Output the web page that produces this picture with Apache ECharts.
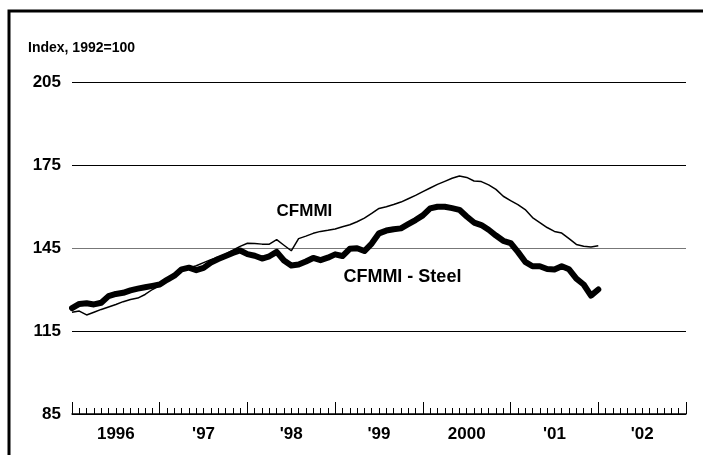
<!DOCTYPE html>
<html>
<head>
<meta charset="utf-8">
<script src="https://cdn.jsdelivr.net/npm/echarts@6/dist/echarts.min.js"></script>
<style>
  html, body { margin: 0; padding: 0; background: #fff; }
  #chart { width: 703px; height: 455px; }
</style>
</head>
<body>
<div id="chart"></div>
<script>
// months since Jan 1996 (0 = Jan 1996), monthly to Jan 2002
var yearLabels = ['1996', "'97", "'98", "'99", '2000', "'01", "'02"];
var yTicks = [85, 115, 145, 175, 205];

var cfmmi = [
  121.8, 122.2, 120.8, 121.8, 122.8, 123.7, 124.6, 125.6, 126.4, 126.9, 128.2, 130.0,
  131.4, 133.1, 134.6, 136.8, 137.8, 138.6, 139.7, 140.8, 141.7, 142.8, 144.2, 145.6,
  146.7, 146.6, 146.4, 146.4, 148.0, 146.0, 144.0, 148.4, 149.3, 150.3, 151.0, 151.4,
  151.9, 152.7, 153.4, 154.5, 155.8, 157.5, 159.3, 159.9, 160.7, 161.6, 162.8, 164.0,
  165.4, 166.7, 168.0, 169.1, 170.2, 171.0, 170.5, 169.2, 169.0, 167.8, 166.2, 163.7,
  162.1, 160.7, 158.9, 156.0, 154.2, 152.4, 151.0, 150.4, 148.4, 146.3, 145.6, 145.4,
  145.8
];

var steel = [
  123.3, 124.8, 125.0, 124.6, 125.2, 127.6, 128.4, 128.8, 129.7, 130.3, 130.8, 131.3,
  131.8, 133.5, 135.0, 137.3, 137.9, 137.0, 137.8, 139.7, 141.0, 142.1, 143.2, 144.1,
  142.8, 142.2, 141.2, 142.0, 143.6, 140.5, 138.7, 139.0, 140.1, 141.4, 140.6, 141.5,
  142.7, 142.1, 144.7, 144.9, 143.9, 146.6, 150.3, 151.3, 151.8, 152.1, 153.6, 155.1,
  156.8, 159.3, 159.9, 159.9, 159.4, 158.8, 156.4, 154.2, 153.3, 151.6, 149.5, 147.6,
  146.8, 143.6, 140.0, 138.4, 138.4, 137.4, 137.2, 138.4, 137.3, 133.9, 131.8, 127.8,
  130.0
];

// where the series names sit, in [month, index] terms
var cfmmiLabelAt = [31.8, 158.3];
var steelLabelAt = [45.2, 134.6];

function pairs(arr) {
  return arr.map(function (v, i) { return [i, v]; });
}

var font = 'Liberation Sans, Arial, sans-serif';

var chart = echarts.init(document.getElementById('chart'));
chart.setOption({
  animation: false,
  title: {
    text: 'Index, 1992=100',
    left: 23,
    top: 36,
    textStyle: { fontFamily: font, fontSize: 14, fontWeight: 'bold', color: '#000' }
  },
  graphic: [{
    type: 'rect',
    shape: { x: 9, y: 11, width: 760, height: 500 },
    style: { fill: 'none', stroke: '#000', lineWidth: 3 },
    silent: true
  }],
  grid: { left: 72, right: 17, top: 82, bottom: 41 },
  xAxis: [{
    type: 'value',
    min: 0,
    max: 84,
    interval: 1,
    position: 'bottom',
    axisLine: { show: true, lineStyle: { color: '#000', width: 1.5 } },
    axisTick: { show: true, inside: true, length: 6, lineStyle: { color: '#000', width: 1 } },
    splitLine: { show: false },
    axisLabel: {
      margin: 12,
      fontFamily: font,
      fontSize: 17,
      fontWeight: 'bold',
      color: '#000',
      formatter: function (v) {
        if (v % 12 === 6) return yearLabels[(v - 6) / 12] || '';
        return '';
      }
    }
  }, {
    type: 'value',
    min: 0,
    max: 84,
    interval: 12,
    position: 'bottom',
    axisLine: { show: false },
    axisTick: { show: true, inside: true, length: 12, lineStyle: { color: '#000', width: 1 } },
    splitLine: { show: false },
    axisLabel: { show: false }
  }],
  yAxis: {
    type: 'value',
    min: 85,
    max: 205,
    interval: 30,
    axisLine: { show: false },
    axisTick: { show: false },
    axisLabel: {
      margin: 11,
      fontFamily: font,
      fontSize: 17,
      fontWeight: 'bold',
      color: '#000'
    },
    splitLine: {
      show: true,
      lineStyle: { color: ['#000', '#000', '#777', '#000', '#000'], width: 1 }
    }
  },
  series: [{
    name: 'CFMMI - Steel',
    type: 'line',
    data: pairs(steel),
    showSymbol: false,
    lineStyle: { color: '#000', width: 6, cap: 'round', join: 'round' },
    markPoint: {
      symbol: 'circle',
      symbolSize: 1,
      itemStyle: { color: 'rgba(0,0,0,0)' },
      label: {
        show: true, position: 'inside', color: '#000',
        fontFamily: font, fontSize: 18, fontWeight: 'bold',
        formatter: 'CFMMI - Steel'
      },
      data: [{ coord: steelLabelAt }]
    }
  }, {
    name: 'CFMMI',
    type: 'line',
    data: pairs(cfmmi),
    showSymbol: false,
    lineStyle: { color: '#000', width: 1.5 },
    markPoint: {
      symbol: 'circle',
      symbolSize: 1,
      itemStyle: { color: 'rgba(0,0,0,0)' },
      label: {
        show: true, position: 'inside', color: '#000',
        fontFamily: font, fontSize: 17, fontWeight: 'bold',
        formatter: 'CFMMI'
      },
      data: [{ coord: cfmmiLabelAt }]
    }
  }]
});
</script>
</body>
</html>
